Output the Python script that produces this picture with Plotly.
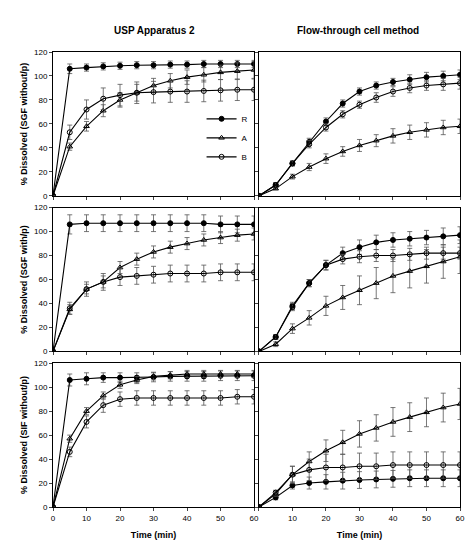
import plotly.graph_objects as go
from plotly.subplots import make_subplots

time = [0, 5, 10, 15, 20, 25, 30, 35, 40, 45, 50, 55, 60]

# USP apparatus 2, SGF without p
usp_sgf_r = [0, 106, 107, 108, 108.5, 109, 109, 109.5, 109.5, 110, 110, 110, 110]
usp_sgf_a = [0, 41, 58, 71, 80, 86, 92, 96, 99, 101, 103, 104, 105]
usp_sgf_b = [0, 53, 72, 81, 84, 86, 86.5, 87, 87, 87.5, 88, 88.5, 88.5]
usp_sgf_r_err = [0, 4, 3, 3, 3, 3, 3, 3, 3, 3, 3, 3, 3]
usp_sgf_a_err = [0, 3, 4, 5, 6, 7, 6, 6, 6, 6, 6, 7, 7]
usp_sgf_b_err = [0, 6, 8, 9, 9, 9, 9, 9, 9, 9, 9, 9, 9]

# Flow-through, SGF without p
ftc_sgf_r = [0, 9, 27, 45, 62, 77, 87, 92, 95, 97, 99, 100, 101]
ftc_sgf_a = [0, 6, 16, 24, 31, 37, 42, 46, 50, 53, 55, 57, 58]
ftc_sgf_b = [0, 9, 27, 43, 57, 68, 76, 82, 87, 90, 92, 93, 94]
ftc_sgf_r_err = [0, 2, 2, 3, 3, 3, 3, 3, 3, 4, 4, 4, 4]
ftc_sgf_a_err = [0, 1, 2, 3, 4, 4, 5, 5, 6, 6, 6, 6, 6]
ftc_sgf_b_err = [0, 2, 2, 3, 3, 3, 3, 4, 4, 4, 4, 5, 5]

# USP apparatus 2, SGF with p
usp_sgfp_r = [0, 106, 107, 107, 107, 107, 107, 107, 107, 107, 106, 106, 106]
usp_sgfp_a = [0, 35, 52, 58, 70, 77, 83, 87, 90, 93, 95, 97, 98]
usp_sgfp_b = [0, 36, 52, 58, 62, 63, 64, 65, 65, 65, 66, 66, 66]
usp_sgfp_r_err = [0, 8, 7, 7, 7, 7, 7, 7, 7, 7, 7, 7, 7]
usp_sgfp_a_err = [0, 4, 4, 5, 5, 5, 5, 5, 5, 5, 5, 5, 5]
usp_sgfp_b_err = [0, 5, 6, 7, 7, 7, 7, 7, 7, 7, 7, 7, 7]

# Flow-through, SGF with p
ftc_sgfp_r = [0, 12, 38, 57, 72, 82, 87, 91, 93, 94, 95, 96, 97]
ftc_sgfp_a = [0, 6, 19, 28, 38, 45, 51, 57, 63, 67, 71, 75, 79]
ftc_sgfp_b = [0, 12, 37, 57, 72, 77, 79, 80, 80, 81, 82, 82, 82]
ftc_sgfp_r_err = [0, 2, 3, 3, 4, 5, 6, 6, 6, 6, 6, 7, 7]
ftc_sgfp_a_err = [0, 2, 4, 6, 8, 10, 12, 13, 14, 14, 14, 14, 14]
ftc_sgfp_b_err = [0, 2, 3, 3, 4, 4, 5, 5, 5, 5, 5, 5, 5]

# USP apparatus 2, SIF without p
usp_sif_r = [0, 106, 107, 108, 108, 108, 108.5, 109, 109, 109, 109.5, 109.5, 109.5]
usp_sif_a = [0, 57, 80, 93, 102, 106, 109, 110, 111, 111, 111, 111, 111]
usp_sif_b = [0, 46, 71, 85, 90, 91, 91, 91, 91, 91, 91, 92, 92]
usp_sif_r_err = [0, 5, 5, 4, 4, 4, 4, 4, 4, 4, 4, 4, 4]
usp_sif_a_err = [0, 3, 3, 3, 3, 3, 3, 3, 3, 3, 3, 3, 3]
usp_sif_b_err = [0, 4, 5, 6, 6, 6, 6, 6, 6, 6, 6, 6, 6]

# Flow-through, SIF without p
ftc_sif_r = [0, 8, 18, 20, 21, 22, 22.5, 23, 23.5, 24, 24, 24, 24]
ftc_sif_a = [0, 11, 27, 38, 47, 54, 61, 66, 71, 75, 79, 83, 86]
ftc_sif_b = [0, 12, 27, 31, 33, 33, 34, 34, 35, 35, 35, 35, 35]
ftc_sif_r_err = [0, 2, 3, 5, 6, 7, 7, 7, 7, 7, 7, 7, 7]
ftc_sif_a_err = [0, 2, 7, 8, 9, 10, 11, 11, 12, 12, 12, 12, 13]
ftc_sif_b_err = [0, 2, 7, 9, 11, 11, 11, 11, 11, 11, 11, 11, 11]

col_titles = ["USP Apparatus 2", "Flow-through cell method"]
y_titles = ["% Dissolved (SGF without/p)", "% Dissolved (SGF with/p)", "% Dissolved (SIF without/p)"]

panels = [
    (1, 1, usp_sgf_r, usp_sgf_a, usp_sgf_b, usp_sgf_r_err, usp_sgf_a_err, usp_sgf_b_err),
    (1, 2, ftc_sgf_r, ftc_sgf_a, ftc_sgf_b, ftc_sgf_r_err, ftc_sgf_a_err, ftc_sgf_b_err),
    (2, 1, usp_sgfp_r, usp_sgfp_a, usp_sgfp_b, usp_sgfp_r_err, usp_sgfp_a_err, usp_sgfp_b_err),
    (2, 2, ftc_sgfp_r, ftc_sgfp_a, ftc_sgfp_b, ftc_sgfp_r_err, ftc_sgfp_a_err, ftc_sgfp_b_err),
    (3, 1, usp_sif_r, usp_sif_a, usp_sif_b, usp_sif_r_err, usp_sif_a_err, usp_sif_b_err),
    (3, 2, ftc_sif_r, ftc_sif_a, ftc_sif_b, ftc_sif_r_err, ftc_sif_a_err, ftc_sif_b_err),
]

styles = [
    ("R", "circle", "black"),
    ("A", "triangle-up-open", "white"),
    ("B", "circle-open", "white"),
]

fig = make_subplots(rows=3, cols=2, horizontal_spacing=0.012, vertical_spacing=0.026)

for row, col, r, a, b, re, ae, be in panels:
    for (name, sym, fill), ys, err in zip(styles, [r, a, b], [re, ae, be]):
        fig.add_trace(go.Scatter(
            x=time, y=ys, name=name, mode="lines+markers",
            line=dict(color="black", width=1.1),
            marker=dict(symbol=sym, size=5, color="black", line=dict(color="black", width=1)),
            error_y=dict(type="data", array=err, color="#555", thickness=0.8, width=2.5),
            showlegend=(row == 1 and col == 1),
            legendrank={"R": 1, "A": 2, "B": 3}[name],
        ), row=row, col=col)

font = dict(family="Liberation Sans, Arial", size=8, color="black")
for row in range(1, 4):
    for col in range(1, 3):
        fig.update_xaxes(range=[0, 60], tickvals=[0, 10, 20, 30, 40, 50, 60],
                         showticklabels=(row == 3), ticks="outside", ticklen=3,
                         showline=True, linecolor="black", mirror=True, showgrid=False,
                         zeroline=False, tickfont=font, row=row, col=col)
        fig.update_yaxes(range=[0, 120], tickvals=[0, 20, 40, 60, 80, 100, 120],
                         showticklabels=(col == 1), ticks="outside", ticklen=3,
                         showline=True, linecolor="black", mirror=True, showgrid=False,
                         zeroline=False, tickfont=font, row=row, col=col)
    fig.update_yaxes(title=dict(text="<b>" + y_titles[row - 1] + "</b>",
                                font=dict(family="Liberation Sans, Arial", size=9), standoff=4),
                     row=row, col=1)
# right column: drop the 0 tick label overlap by labelling from 10
fig.update_xaxes(tickvals=[0, 10, 20, 30, 40, 50, 60],
                 ticktext=["", "10", "20", "30", "40", "50", "60"], row=3, col=2)
for col in range(1, 3):
    fig.update_xaxes(title=dict(text="<b>Time (min)</b>",
                                font=dict(family="Liberation Sans, Arial", size=9), standoff=10),
                     row=3, col=col)

for i, t in enumerate(col_titles):
    fig.add_annotation(text="<b>" + t + "</b>", xref="paper", yref="paper",
                       x=[0.25, 0.75][i], y=1.048, xanchor="center", yanchor="middle",
                       showarrow=False,
                       font=dict(family="Liberation Sans, Arial", size=10, color="black"))

fig.update_layout(
    width=474, height=543,
    margin=dict(l=45, r=22, t=44, b=41),
    plot_bgcolor="white", paper_bgcolor="white",
    font=font,
    legend=dict(x=0.365, y=0.885, xanchor="left", yanchor="top",
                bgcolor="rgba(0,0,0,0)", font=dict(size=8, family="Liberation Sans, Arial"),
                itemwidth=30, tracegroupgap=0),
)

fig.write_html("out.html")
